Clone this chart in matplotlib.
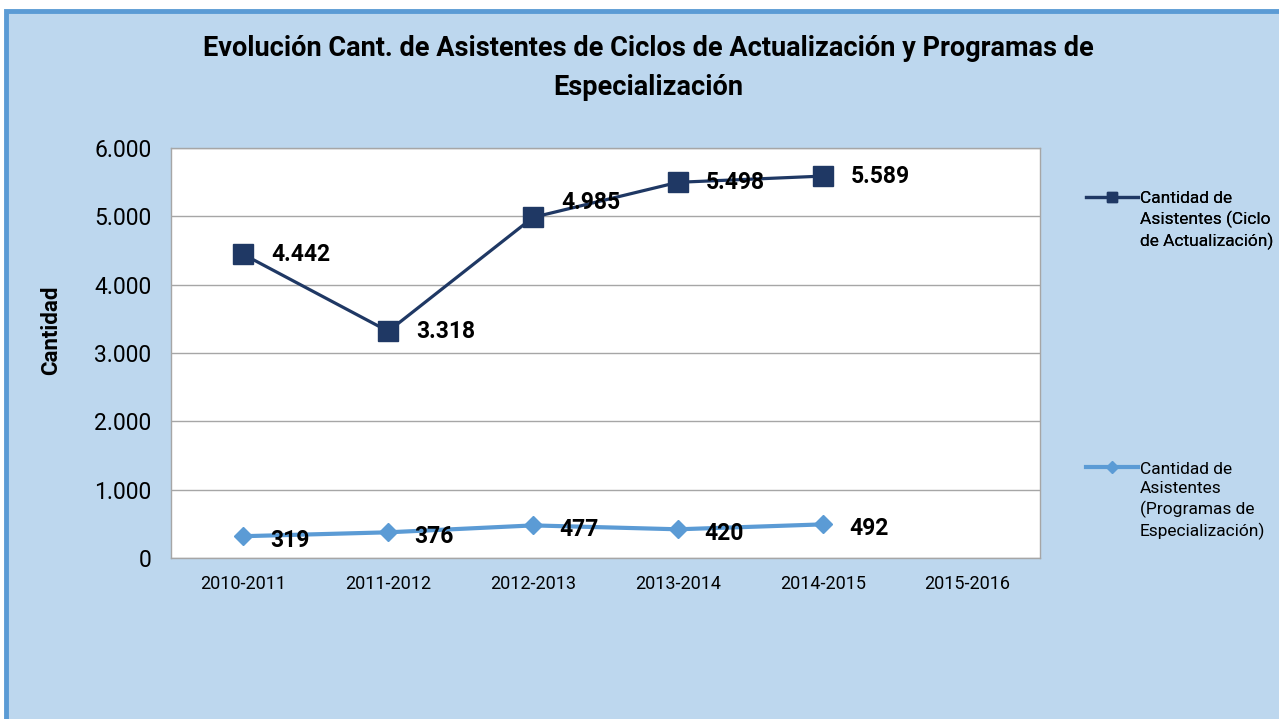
import matplotlib.pyplot as plt
from matplotlib.patches import Rectangle
from matplotlib.lines import Line2D
from matplotlib.legend_handler import HandlerLine2D
import numpy as np

periodos = ["2010-2011", "2011-2012", "2012-2013", "2013-2014", "2014-2015", "2015-2016"]
ciclo_actualizacion = [4442, 3318, 4985, 5498, 5589, np.nan]
programas_especializacion = [319, 376, 477, 420, 492, np.nan]
y_ticks = [0, 1000, 2000, 3000, 4000, 5000, 6000]

titulo = "Evolución Cant. de Asistentes de Ciclos de Actualización y Programas de\nEspecialización"
label_ciclo = "Cantidad de\nAsistentes (Ciclo\nde Actualización)"
label_prog = "Cantidad de\nAsistentes\n(Programas de\nEspecialización)"

FONT = ["Roboto", "DejaVu Sans"]
BG = "#BDD7EE"
DARK = "#1F3864"
LIGHT = "#5B9BD5"


def fmt(v):
    return f"{int(v):,}".replace(",", ".")


class TopLineHandler(HandlerLine2D):
    # put the legend sample next to the first text line instead of the middle
    def __init__(self, shift, **kw):
        super().__init__(**kw)
        self.shift = shift

    def create_artists(self, legend, orig_handle, xdescent, ydescent, width, height, fontsize, trans):
        artists = super().create_artists(legend, orig_handle, xdescent, ydescent, width, height, fontsize, trans)
        for a in artists:
            a.set_ydata(np.asarray(a.get_ydata(), dtype=float) + self.shift)
        return artists


fig = plt.figure(figsize=(12.79, 7.19), dpi=100, facecolor="white")
# panel background with blue frame
fig.patches.append(Rectangle((6 / 1279, -0.05), 1.1, 1 - 11 / 719 + 0.05, transform=fig.transFigure,
                             facecolor=BG, edgecolor=LIGHT, linewidth=3.5, zorder=-10))

ax = fig.add_axes([171 / 1279, 1 - 558 / 719, 869 / 1279, 410 / 719])
ax.set_facecolor("white")
x = np.arange(len(periodos))

ax.plot(x, ciclo_actualizacion, color=DARK, linewidth=2.3, marker="s", markersize=14, zorder=3)
ax.plot(x, programas_especializacion, color=LIGHT, linewidth=3, marker="D", markersize=9, zorder=3)

ax.set_xlim(-0.5, len(periodos) - 0.5)
ax.set_ylim(0, 6000)
ax.set_yticks(y_ticks)
ax.set_yticklabels([fmt(v) for v in y_ticks], fontsize=16.5, family=FONT)
ax.set_xticks(x)
ax.set_xticklabels(periodos, fontsize=13, family=FONT)
ax.tick_params(axis="y", length=0, pad=14)
ax.tick_params(axis="x", length=0, pad=12)
ax.grid(axis="y", color="#A6A6A6", linewidth=1)
ax.set_axisbelow(True)
for s in ax.spines.values():
    s.set_color("#A6A6A6")
    s.set_linewidth(1)

ax.set_ylabel("Cantidad", fontsize=16, fontweight="bold", family=FONT)
ax.yaxis.set_label_coords(-0.125, 0.556)

# data labels
for i, v in enumerate(ciclo_actualizacion):
    if not np.isnan(v):
        dy = 11 if i == 2 else 0
        ax.annotate(fmt(v), (i, v), xytext=(20, dy), textcoords="offset points",
                    ha="left", va="center", fontsize=16.5, fontweight="bold", family=FONT, zorder=4)
for i, v in enumerate(programas_especializacion):
    if not np.isnan(v):
        ax.annotate(fmt(v), (i, v), xytext=(19, -3), textcoords="offset points",
                    ha="left", va="center", fontsize=16.5, fontweight="bold", family=FONT, zorder=4)

fig.text(648 / 1279, 1 - 68 / 719, titulo, ha="center", va="center", fontsize=19.5,
         fontweight="bold", family=FONT, linespacing=1.55)

# legends
h1 = Line2D([], [], color=DARK, linewidth=2.3, marker="s", markersize=7)
h2 = Line2D([], [], color=LIGHT, linewidth=3, marker="D", markersize=6)
legprops = {"family": FONT, "size": 12.5}
line_pt = 16.5
leg1 = fig.legend([h1], [label_ciclo], loc="upper left", bbox_to_anchor=(1079 / 1279, 1 - 184 / 719),
                  frameon=False, prop=legprops, handlelength=3.0,
                  handletextpad=0.1, borderaxespad=0,
                  handler_map={h1: TopLineHandler(1.0 * line_pt)})
leg2 = fig.legend([h2], [label_prog], loc="upper left", bbox_to_anchor=(1079 / 1279, 1 - 455 / 719),
                  frameon=False, prop=legprops, handlelength=3.0,
                  handletextpad=0.1, borderaxespad=0,
                  handler_map={h2: TopLineHandler(1.5 * line_pt)})
for leg in (leg1, leg2):
    for t in leg.get_texts():
        t.set_linespacing(1.35)
fig.add_artist(leg1)

fig.savefig("out.png", dpi=100, facecolor="white")
